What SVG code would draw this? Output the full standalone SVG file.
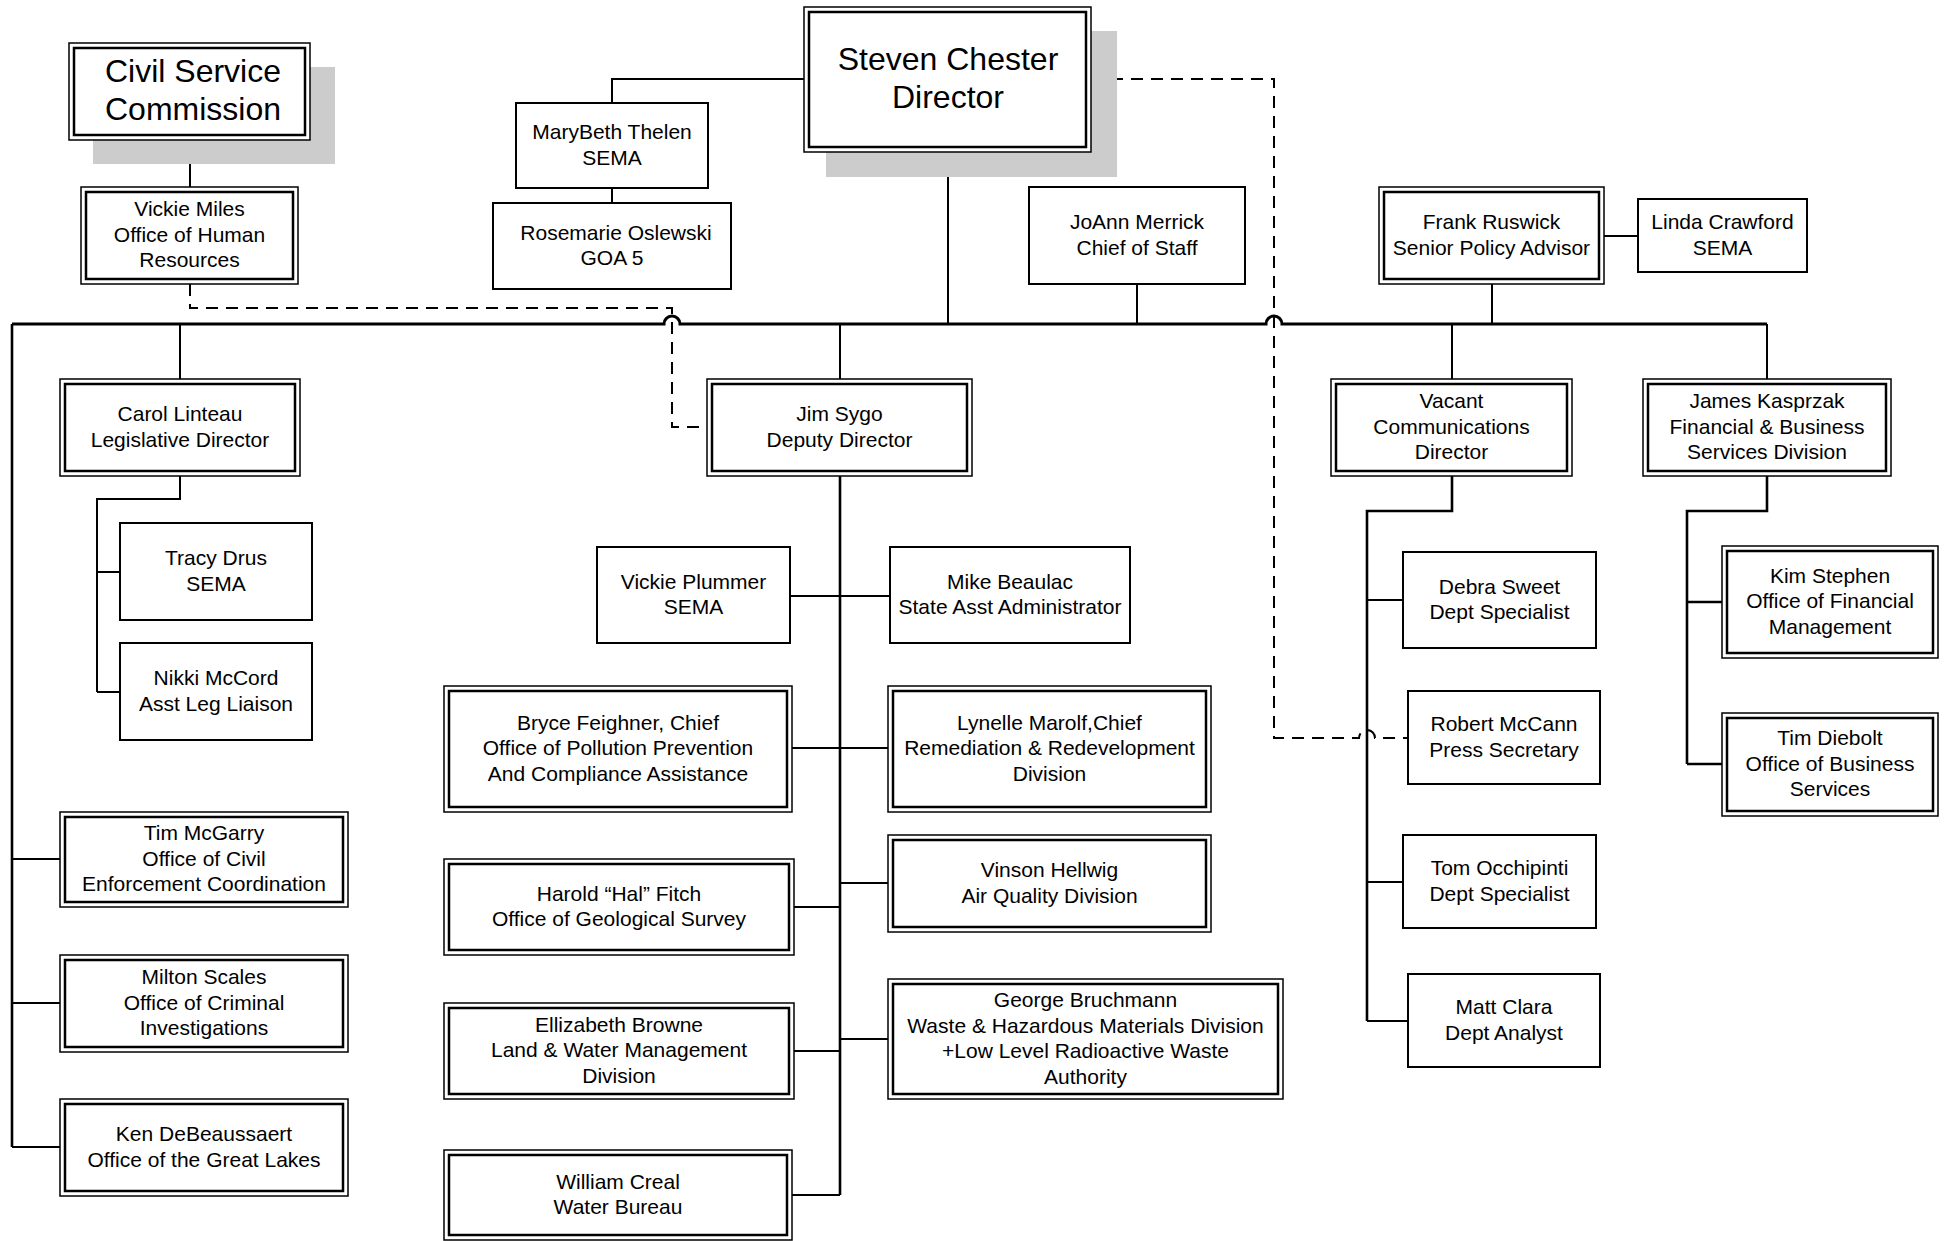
<svg xmlns="http://www.w3.org/2000/svg" width="1948" height="1241" viewBox="0 0 1948 1241">
<style>
.bg{fill:#ffffff}
.sh{fill:#cccccc}
.box{fill:#ffffff;stroke:#000;stroke-width:2}
.outer{fill:#ffffff;stroke:#000;stroke-width:1.5}
.inner{fill:none;stroke:#000;stroke-width:2.5}
text{font-family:"Liberation Sans",Arial,sans-serif;font-size:21px;text-anchor:middle;fill:#000;transform:translateY(-1.5px)}
.big{font-size:32px;transform:translateY(-2.5px)}
.ln{fill:none;stroke:#000;stroke-width:2}
.tk{fill:none;stroke:#000;stroke-width:2.6}
.bus{fill:none;stroke:#000;stroke-width:3}
.dash{fill:none;stroke:#000;stroke-width:2;stroke-dasharray:12 8}
</style>
<rect class="bg" x="0" y="0" width="1948" height="1241"/>
<g id="connectors">
<path class="ln" d="M190,140 V187"/>
<path class="ln" d="M804,79 H612 V103"/>
<path class="ln" d="M612,188 V203"/>
<path class="ln" d="M948,152 V324"/>
<path class="ln" d="M1137,284 V324"/>
<path class="ln" d="M1492,284 V324"/>
<path class="ln" d="M1604,236 H1638"/>
<path class="bus" d="M12,324 H664 a8,8 0 0 1 16,0 H1266 a8,8 0 0 1 16,0 H1767"/>
<path class="tk" d="M12,324 V1147"/>
<path class="ln" d="M180,324 V379"/>
<path class="ln" d="M840,324 V379"/>
<path class="ln" d="M1452,324 V379"/>
<path class="ln" d="M1767,324 V379"/>
<path class="ln" d="M12,859 H60 M12,1003 H60 M12,1147 H60"/>
<path class="ln" d="M180,476 V499 H97 V692 M97,572 H120 M97,692 H120"/>
<path class="tk" d="M840,476 V1195"/>
<path class="ln" d="M790,596 H890 M792,748 H888 M840,883 H888 M794,907 H840 M840,1039 H888 M794,1051 H840 M792,1195 H840"/>
<path class="tk" d="M1452,476 V511 H1367 V1021"/>
<path class="ln" d="M1367,600 H1403 M1367,882 H1403 M1367,1021 H1408"/>
<path class="tk" d="M1767,476 V511 H1687 V764 M1687,602 H1722 M1687,764 H1722"/>
<path class="dash" d="M190,284 V308 H672 V427 H707"/>
<path class="dash" d="M1091,79 H1274 V738 H1359 a8,8 0 0 1 16,0 H1408"/>
</g>
<g id="civil-service">
<rect class="sh" x="93" y="67" width="242" height="97"/>
<rect class="outer" x="69" y="43" width="241" height="97"/>
<rect class="inner" x="74" y="48" width="231" height="87"/>
<text class="big" x="193" y="84">Civil Service</text>
<text class="big" x="193" y="122">Commission</text>
</g>
<g id="director">
<rect class="sh" x="826" y="31" width="291" height="146"/>
<rect class="outer" x="804" y="7" width="287" height="145"/>
<rect class="inner" x="809" y="12" width="277" height="135"/>
<text class="big" x="948" y="72">Steven Chester</text>
<text class="big" x="948" y="110">Director</text>
</g>
<g id="marybeth">
<rect class="box" x="516" y="103" width="192" height="85"/>
<text x="612" y="140">MaryBeth Thelen</text>
<text x="612" y="166">SEMA</text>
</g>
<g id="rosemarie">
<rect class="box" x="493" y="203" width="238" height="86"/>
<text x="616" y="241">Rosemarie Oslewski</text>
<text x="612" y="266">GOA 5</text>
</g>
<g id="vickie-miles">
<rect class="outer" x="81" y="187" width="217" height="97"/>
<rect class="inner" x="86" y="192" width="207" height="87"/>
<text x="189.5" y="217.5">Vickie Miles</text>
<text x="189.5" y="243">Office of Human</text>
<text x="189.5" y="268.5">Resources</text>
</g>
<g id="joann">
<rect class="box" x="1029" y="187" width="216" height="97"/>
<text x="1137" y="230">JoAnn Merrick</text>
<text x="1137" y="256">Chief of Staff</text>
</g>
<g id="frank">
<rect class="outer" x="1379" y="187" width="225" height="97"/>
<rect class="inner" x="1384" y="192" width="215" height="87"/>
<text x="1491.5" y="230">Frank Ruswick</text>
<text x="1491.5" y="256">Senior Policy Advisor</text>
</g>
<g id="linda">
<rect class="box" x="1638" y="199" width="169" height="73"/>
<text x="1722.5" y="230">Linda Crawford</text>
<text x="1722.5" y="256">SEMA</text>
</g>
<g id="carol">
<rect class="outer" x="60" y="379" width="240" height="97"/>
<rect class="inner" x="65" y="384" width="230" height="87"/>
<text x="180" y="422">Carol Linteau</text>
<text x="180" y="448">Legislative Director</text>
</g>
<g id="tracy">
<rect class="box" x="120" y="523" width="192" height="97"/>
<text x="216" y="566.5">Tracy Drus</text>
<text x="216" y="592">SEMA</text>
</g>
<g id="nikki">
<rect class="box" x="120" y="643" width="192" height="97"/>
<text x="216" y="686">Nikki McCord</text>
<text x="216" y="712">Asst Leg Liaison</text>
</g>
<g id="tim-mcgarry">
<rect class="outer" x="60" y="812" width="288" height="95"/>
<rect class="inner" x="65" y="817" width="278" height="85"/>
<text x="204" y="841.5">Tim McGarry</text>
<text x="204" y="867">Office of Civil</text>
<text x="204" y="892.5">Enforcement Coordination</text>
</g>
<g id="milton">
<rect class="outer" x="60" y="955" width="288" height="97"/>
<rect class="inner" x="65" y="960" width="278" height="87"/>
<text x="204" y="985.5">Milton Scales</text>
<text x="204" y="1011">Office of Criminal</text>
<text x="204" y="1036.5">Investigations</text>
</g>
<g id="ken">
<rect class="outer" x="60" y="1099" width="288" height="97"/>
<rect class="inner" x="65" y="1104" width="278" height="87"/>
<text x="204" y="1142">Ken DeBeaussaert</text>
<text x="204" y="1168">Office of the Great Lakes</text>
</g>
<g id="jim">
<rect class="outer" x="707" y="379" width="265" height="97"/>
<rect class="inner" x="712" y="384" width="255" height="87"/>
<text x="839.5" y="422">Jim Sygo</text>
<text x="839.5" y="448">Deputy Director</text>
</g>
<g id="vickie-plummer">
<rect class="box" x="597" y="547" width="193" height="96"/>
<text x="693.5" y="590">Vickie Plummer</text>
<text x="693.5" y="615">SEMA</text>
</g>
<g id="mike">
<rect class="box" x="890" y="547" width="240" height="96"/>
<text x="1010" y="590">Mike Beaulac</text>
<text x="1010" y="615">State Asst Administrator</text>
</g>
<g id="bryce">
<rect class="outer" x="444" y="686" width="348" height="126"/>
<rect class="inner" x="449" y="691" width="338" height="116"/>
<text x="618" y="731">Bryce Feighner, Chief</text>
<text x="618" y="756.5">Office of Pollution Prevention</text>
<text x="618" y="782">And Compliance Assistance</text>
</g>
<g id="lynelle">
<rect class="outer" x="888" y="686" width="323" height="126"/>
<rect class="inner" x="893" y="691" width="313" height="116"/>
<text x="1049.5" y="731">Lynelle Marolf,Chief</text>
<text x="1049.5" y="756.5">Remediation &amp; Redevelopment</text>
<text x="1049.5" y="782">Division</text>
</g>
<g id="harold">
<rect class="outer" x="444" y="859" width="350" height="96"/>
<rect class="inner" x="449" y="864" width="340" height="86"/>
<text x="619" y="902">Harold “Hal” Fitch</text>
<text x="619" y="927">Office of Geological Survey</text>
</g>
<g id="vinson">
<rect class="outer" x="888" y="835" width="323" height="97"/>
<rect class="inner" x="893" y="840" width="313" height="87"/>
<text x="1049.5" y="878">Vinson Hellwig</text>
<text x="1049.5" y="904">Air Quality Division</text>
</g>
<g id="ellizabeth">
<rect class="outer" x="444" y="1003" width="350" height="96"/>
<rect class="inner" x="449" y="1008" width="340" height="86"/>
<text x="619" y="1033">Ellizabeth Browne</text>
<text x="619" y="1058.5">Land &amp; Water Management</text>
<text x="619" y="1084">Division</text>
</g>
<g id="george">
<rect class="outer" x="888" y="979" width="395" height="120"/>
<rect class="inner" x="893" y="984" width="385" height="110"/>
<text x="1085.5" y="1008">George Bruchmann</text>
<text x="1085.5" y="1034">Waste &amp; Hazardous Materials Division</text>
<text x="1085.5" y="1059">+Low Level Radioactive Waste</text>
<text x="1085.5" y="1085">Authority</text>
</g>
<g id="william">
<rect class="outer" x="444" y="1150" width="348" height="90"/>
<rect class="inner" x="449" y="1155" width="338" height="80"/>
<text x="618" y="1190">William Creal</text>
<text x="618" y="1215">Water Bureau</text>
</g>
<g id="vacant">
<rect class="outer" x="1331" y="379" width="241" height="97"/>
<rect class="inner" x="1336" y="384" width="231" height="87"/>
<text x="1451.5" y="409.5">Vacant</text>
<text x="1451.5" y="435">Communications</text>
<text x="1451.5" y="460.5">Director</text>
</g>
<g id="james">
<rect class="outer" x="1643" y="379" width="248" height="97"/>
<rect class="inner" x="1648" y="384" width="238" height="87"/>
<text x="1767" y="409.5">James Kasprzak</text>
<text x="1767" y="435">Financial &amp; Business</text>
<text x="1767" y="460.5">Services Division</text>
</g>
<g id="debra">
<rect class="box" x="1403" y="552" width="193" height="96"/>
<text x="1499.5" y="595">Debra Sweet</text>
<text x="1499.5" y="620">Dept Specialist</text>
</g>
<g id="robert">
<rect class="box" x="1408" y="691" width="192" height="93"/>
<text x="1504" y="732">Robert McCann</text>
<text x="1504" y="758">Press Secretary</text>
</g>
<g id="tom">
<rect class="box" x="1403" y="835" width="193" height="93"/>
<text x="1499.5" y="876">Tom Occhipinti</text>
<text x="1499.5" y="902">Dept Specialist</text>
</g>
<g id="matt">
<rect class="box" x="1408" y="974" width="192" height="93"/>
<text x="1504" y="1015">Matt Clara</text>
<text x="1504" y="1041">Dept Analyst</text>
</g>
<g id="kim">
<rect class="outer" x="1722" y="546" width="216" height="112"/>
<rect class="inner" x="1727" y="551" width="206" height="102"/>
<text x="1830" y="584">Kim Stephen</text>
<text x="1830" y="609.5">Office of Financial</text>
<text x="1830" y="635">Management</text>
</g>
<g id="tim-diebolt">
<rect class="outer" x="1722" y="713" width="216" height="103"/>
<rect class="inner" x="1727" y="718" width="206" height="93"/>
<text x="1830" y="746.5">Tim Diebolt</text>
<text x="1830" y="772">Office of Business</text>
<text x="1830" y="797.5">Services</text>
</g>
</svg>
